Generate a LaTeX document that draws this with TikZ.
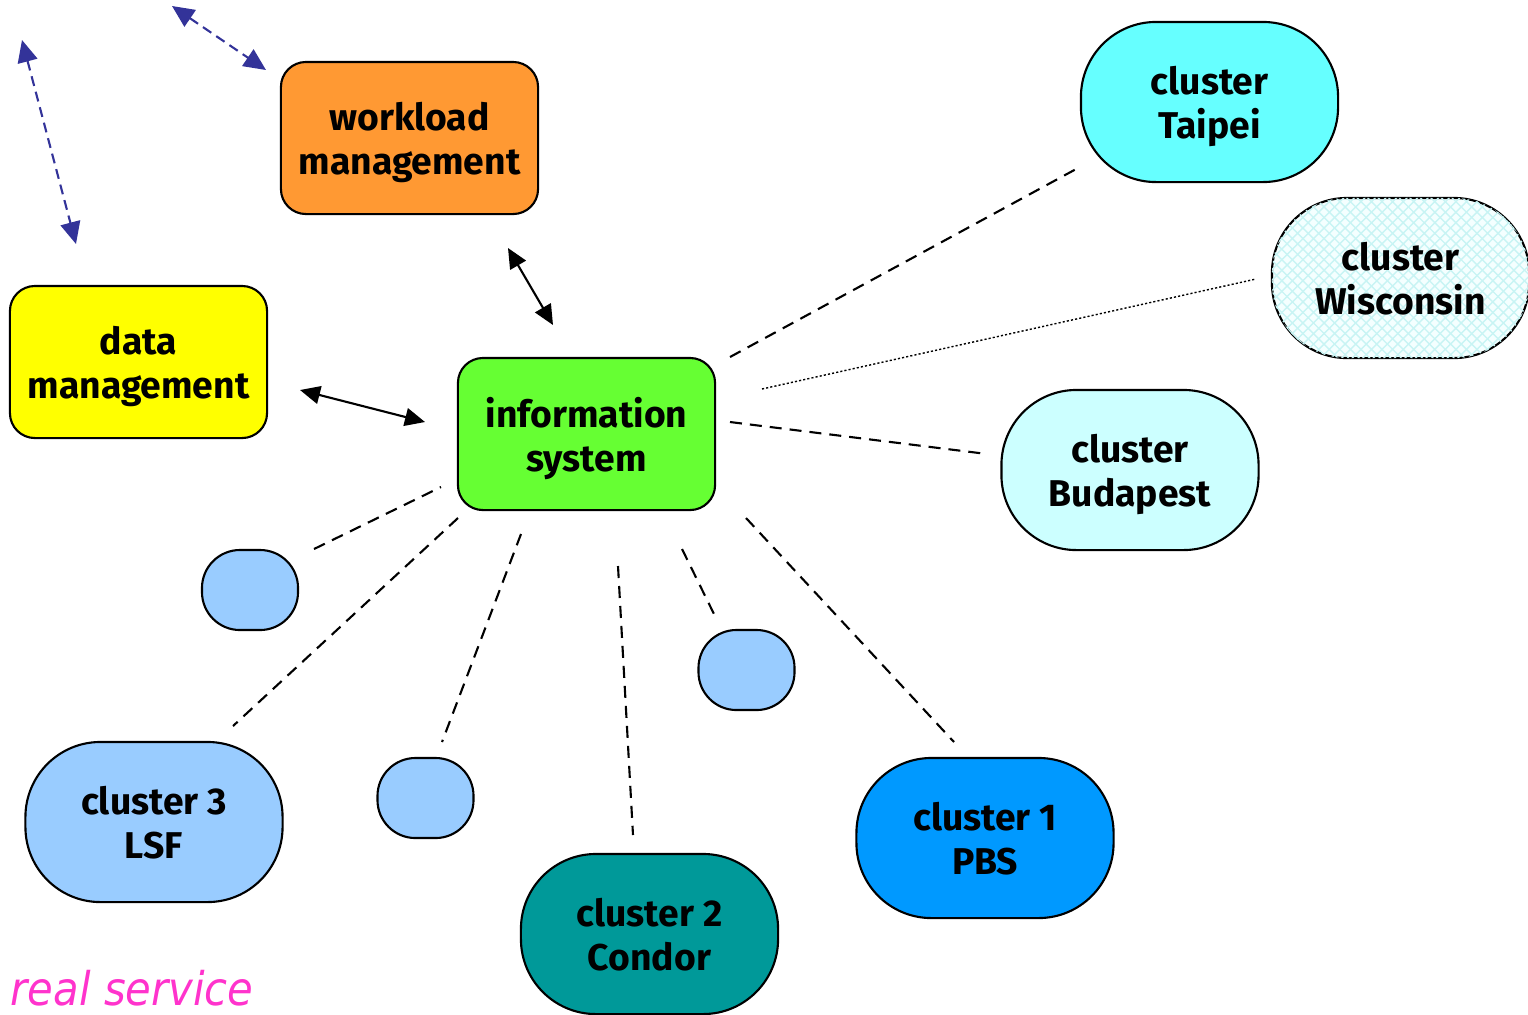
\documentclass[tikz,border=0pt]{standalone}
\usepackage{fontspec}
\setmainfont{Fira Sans}
\newfontfamily\rsfont{DejaVu Sans Condensed}
\usetikzlibrary{arrows.meta,patterns}
\definecolor{cWork}{HTML}{FF9933}
\definecolor{cData}{HTML}{FFFF00}
\definecolor{cInfo}{HTML}{66FF33}
\definecolor{cTaipei}{HTML}{66FFFF}
\definecolor{cWisc}{HTML}{F4FFFF}
\definecolor{cWiscP}{HTML}{C8F4F4}
\definecolor{cBuda}{HTML}{CCFFFF}
\definecolor{cPBS}{HTML}{0099FF}
\definecolor{cCondor}{HTML}{009999}
\definecolor{cLSF}{HTML}{99CCFF}
\definecolor{cBlueArrow}{HTML}{333399}
\definecolor{cReal}{HTML}{FF33CC}
\begin{document}
\begin{tikzpicture}[x=0.01cm,y=-0.01cm,
  box/.style={draw, line width=0.6pt, rounded corners=0.25cm, minimum width=2.57cm,
    minimum height=1.52cm, align=center, inner sep=0pt, text depth=0pt,
    font=\fontsize{10.6}{12.5}\selectfont\bfseries},
  clus/.style={box, rounded corners=0.75cm, minimum height=1.6cm},
  smalloval/.style={draw, line width=0.6pt, rounded corners=0.38cm, minimum width=0.96cm,
    minimum height=0.8cm, fill=cLSF, inner sep=0pt},
  link/.style={line width=0.6pt, dash pattern=on 0.12cm off 0.08cm},
  dotlink/.style={line width=0.4pt, dash pattern=on 0.6pt off 0.6pt},
  dbl/.style={line width=0.6pt, {Triangle[length=0.2cm,width=0.18cm]}-{Triangle[length=0.2cm,width=0.18cm]}},
  bluedbl/.style={line width=0.6pt, cBlueArrow, dash pattern=on 0.1cm off 0.06cm,
    {Triangle[length=0.22cm,width=0.2cm]}-{Triangle[length=0.22cm,width=0.2cm]}}
]
\useasboundingbox (0,0) rectangle (1528,1014);

% main boxes
\node[box, fill=cWork] (work) at (409.5,138) {workload\\management};
\node[box, fill=cData] (data) at (138.5,362) {data\\management};
\node[box, fill=cInfo] (info) at (586.5,434) {information\\system};

% clusters
\node[clus, fill=cTaipei] (taipei) at (1209.5,102) {cluster\\Taipei};
\node[clus, fill=cWisc,
  postaction={pattern=north east lines, pattern color=cWiscP},
  postaction={pattern=north west lines, pattern color=cWiscP}] (wisc) at (1400.5,278) {cluster\\Wisconsin};
\node[clus, fill=cBuda] (buda) at (1130,470) {cluster\\Budapest};
\node[clus, fill=cPBS] (pbs) at (985,838) {cluster 1\\PBS};
\node[clus, fill=cCondor] (condor) at (649.5,934) {cluster 2\\Condor};
\node[clus, fill=cLSF] (lsf) at (154,822) {cluster 3\\LSF};

% small ovals
\node[smalloval] (s1) at (250,590) {};
\node[smalloval] (s2) at (746.5,670) {};
\node[smalloval] (s3) at (425.5,798) {};

% connector end points
\coordinate (aTa) at (730,357);   \coordinate (bTa) at (1078,168);
\coordinate (aWi) at (762,389);   \coordinate (bWi) at (1256,279);
\coordinate (aBu) at (730,422);   \coordinate (bBu) at (987,454);
\coordinate (aPb) at (746,518);   \coordinate (bPb) at (954,742);
\coordinate (aS2) at (682,549);   \coordinate (bS2) at (714,614);
\coordinate (aCo) at (618,566);   \coordinate (bCo) at (633,835);
\coordinate (aS3) at (521,534);   \coordinate (bS3) at (442,742);
\coordinate (aLs) at (458,518);   \coordinate (bLs) at (233,726);
\coordinate (aS1) at (441,487);   \coordinate (bS1) at (314,549);

\draw[link] (aTa) -- (bTa);
\draw[dotlink] (aWi) -- (bWi);
\draw[link] (aBu) -- (bBu);
\draw[link] (aPb) -- (bPb);
\draw[link] (aS2) -- (bS2);
\draw[link] (aCo) -- (bCo);
\draw[link] (aS3) -- (bS3);
\draw[link] (aLs) -- (bLs);
\draw[link] (bS1) -- (aS1);

% black double arrows
\coordinate (wA) at (508,248); \coordinate (wB) at (553,325);
\coordinate (dA) at (300,390); \coordinate (dB) at (425,422);
\draw[dbl] (wA) -- (wB);
\draw[dbl] (dA) -- (dB);

% blue dashed double arrows
\coordinate (u1) at (22,40);  \coordinate (u2) at (76,244);
\coordinate (v1) at (172,6);  \coordinate (v2) at (266,70);
\draw[bluedbl] (u1) -- (u2);
\draw[bluedbl] (v1) -- (v2);

% label
\node[anchor=base west, inner sep=0pt, text=cReal, font=\rsfont\itshape\fontsize{13.2}{14}\selectfont] (real) at (10,1005) {real service};
\end{tikzpicture}
\end{document}
